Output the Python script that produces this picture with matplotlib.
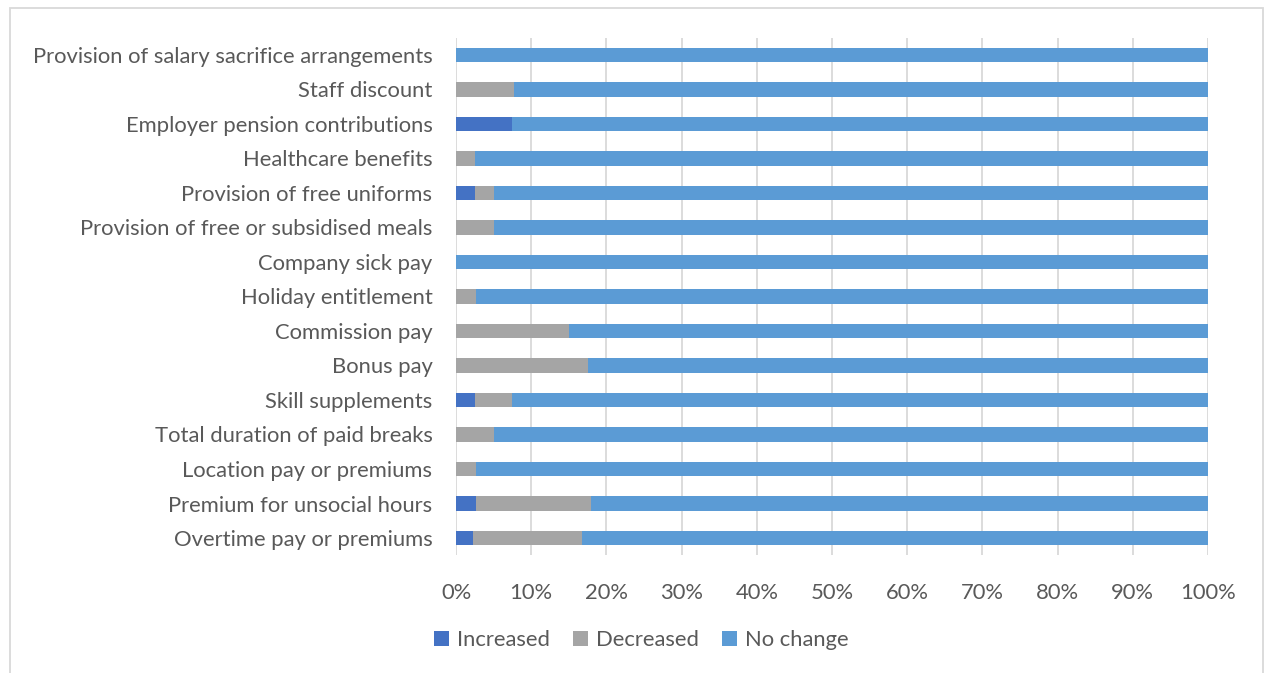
import matplotlib
matplotlib.use("Agg")
import matplotlib.pyplot as plt
from matplotlib.patches import Rectangle
import numpy as np

categories = [
    "Overtime pay or premiums",
    "Premium for unsocial hours",
    "Location pay or premiums",
    "Total duration of paid breaks",
    "Skill supplements",
    "Bonus pay",
    "Commission pay",
    "Holiday entitlement",
    "Company sick pay",
    "Provision of free or subsidised meals",
    "Provision of free uniforms",
    "Healthcare benefits",
    "Employer pension contributions",
    "Staff discount",
    "Provision of salary sacrifice arrangements",
]
increased = [2.3, 2.6, 0, 0, 2.5, 0, 0, 0, 0, 0, 2.5, 0, 7.4, 0, 0]
decreased = [14.4, 15.3, 2.6, 5.1, 5.0, 17.5, 15.0, 2.6, 0, 5.1, 2.6, 2.5, 0, 7.7, 0]
no_change = [100 - a - b for a, b in zip(increased, decreased)]

series_names = ["Increased", "Decreased", "No change"]
colors = ["#4472C4", "#A5A5A5", "#5B9BD5"]
xticks = list(range(0, 101, 10))
xtick_labels = [f"{t}%" for t in xticks]

plt.rcParams['font.family'] = ['Lato', 'DejaVu Sans']
text_color = "#595959"
fs = 15.8

fig = plt.figure(figsize=(12.64, 6.73), dpi=100)
ax = fig.add_axes([456/1264, 1 - 555.25/673, (1208-456)/1264, (555.25-37.75)/673])

y = np.arange(len(categories))
left = np.zeros(len(categories))
for name, vals, c in zip(series_names, [increased, decreased, no_change], colors):
    ax.barh(y, vals, left=left, height=0.42, color=c, label=name, zorder=3)
    left = left + np.array(vals)

ax.set_xlim(0, 100)
ax.set_ylim(-0.5, len(categories) - 0.5)
ax.set_xticks(xticks)
ax.set_xticklabels(xtick_labels)
ax.set_yticks(y)
ax.set_yticklabels(categories)
ax.tick_params(axis='both', length=0, colors=text_color, labelsize=fs)
ax.tick_params(axis='x', pad=20)
ax.tick_params(axis='y', pad=17)
ax.grid(axis='x', color="#D9D9D9", linewidth=1.3, zorder=0)
for s in ax.spines.values():
    s.set_visible(False)

leg = fig.legend(loc='center', bbox_to_anchor=(641/1264, 1 - 640/673), ncol=3,
                 frameon=False, fontsize=fs, handlelength=0.7, handleheight=0.7,
                 handletextpad=0.35, columnspacing=1.05)
for t in leg.get_texts():
    t.set_color(text_color)

fig.patches.append(Rectangle((10/1264, -0.05), (1263-10)/1264, 1.05 - 8/673,
                             transform=fig.transFigure, fill=False,
                             edgecolor="#D9D9D9", linewidth=1.3))

fig.savefig("out.png", dpi=100)
